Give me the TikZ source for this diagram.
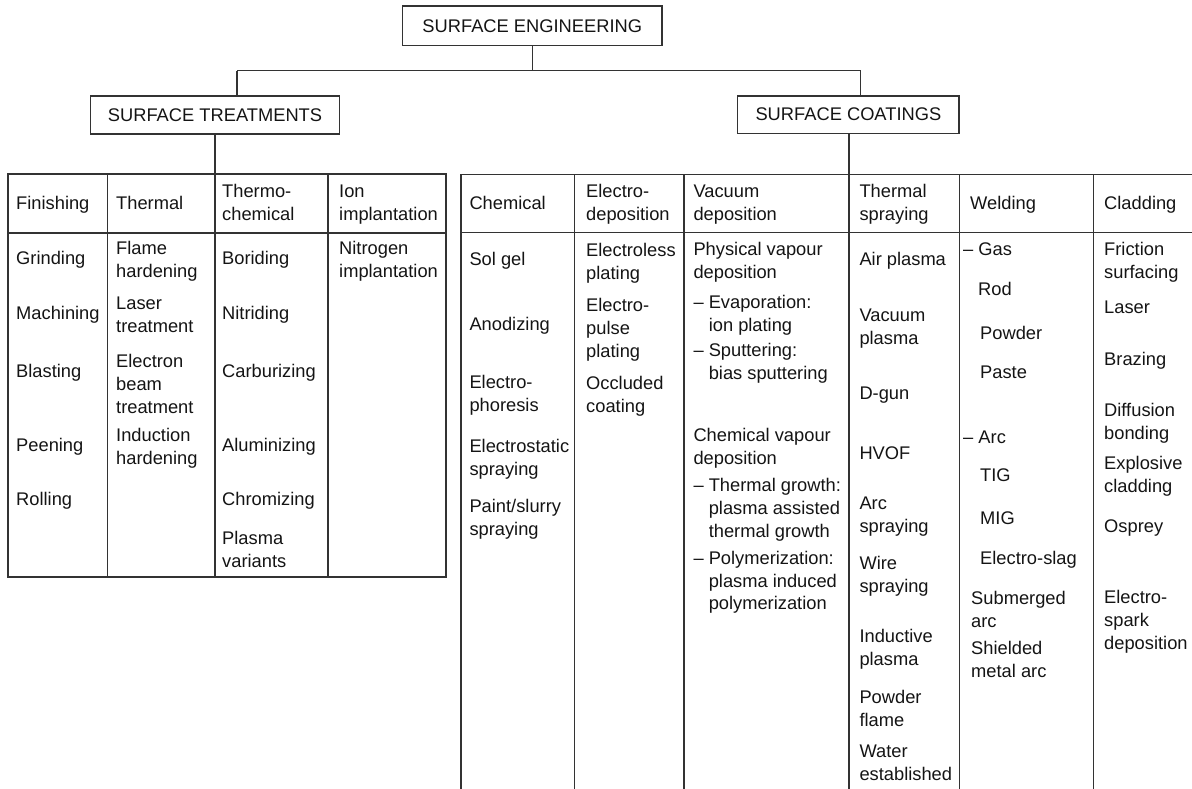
\documentclass[tikz,border=0pt]{standalone}
\usepackage{fontspec}
\setmainfont{Liberation Sans}
\newcommand{\fs}{\fontsize{18.3}{22.7}\selectfont}
\newcommand{\ind}{\phantom{–\ }}
\begin{document}
\begin{tikzpicture}[x=1pt,y=-1pt,
  ln/.style={line width=1.3pt, draw=black!80},
  box/.style={draw=black!80, line width=1.3pt, inner sep=0, font=\fs, text=black!92},
  cell/.style={anchor=north west, inner sep=0, align=left, font=\fs, text=black!92, yshift=9.4pt}]
\useasboundingbox (0,0) rectangle (1192,789);

% top boxes
\node[box, minimum width=259.3pt, minimum height=39.7pt] (se) at (532.3,25.9) {SURFACE ENGINEERING};
\node[box, minimum width=248.6pt, minimum height=38pt] (st) at (215,115) {SURFACE TREATMENTS};
\node[box, minimum width=221.3pt, minimum height=37.3pt] (sc) at (848.4,114.7) {SURFACE COATINGS};

\coordinate (hl) at (237,70.7);
\coordinate (hr) at (860.7,70.7);
\coordinate (lt) at (215,174);
\coordinate (rt) at (849,174.5);
\draw[ln] (se.south) -- (se.south |- hl);
\draw[ln] (hl) -- (hr);
\draw[ln] (hl) -- (hl |- st.north);
\draw[ln] (hr) -- (hr |- sc.north);
\draw[ln] (st.south) -- (lt);
\draw[ln] (rt |- sc.south) -- (rt);

% left table
\draw[ln] (8,174) rectangle (446,577);
\draw[ln] (8,233) -- (446,233);
\foreach \x in {107.7,215,328} \draw[ln] (\x,174) -- (\x,577);

% right table
\draw[ln] (461,789) -- (461,174.5) -- (1192,174.5);
\draw[ln] (461,232.7) -- (1192,232.7);
\foreach \x in {574.3,684,849,959.3,1093.7} \draw[ln] (\x,174.5) -- (\x,789);

% left table text
\node[cell] (h1) at (16,203) {\strut Finishing};
\node[cell] (h2) at (116,203) {\strut Thermal};
\node[cell] (h3) at (222,190.7) {\strut Thermo-\\chemical};
\node[cell] (h4) at (339,190.7) {\strut Ion\\implantation};

\node[cell] (a1) at (16,258.3) {\strut Grinding};
\node[cell] (a2) at (16,312.7) {\strut Machining};
\node[cell] (a3) at (16,371) {\strut Blasting};
\node[cell] (a4) at (16,445.3) {\strut Peening};
\node[cell] (a5) at (16,499) {\strut Rolling};

\node[cell] (b1) at (116,248.3) {\strut Flame\\hardening};
\node[cell] (b2) at (116,302.7) {\strut Laser\\treatment};
\node[cell] (b3) at (116,361) {\strut Electron\\beam\\treatment};
\node[cell] (b4) at (116,435) {\strut Induction\\hardening};

\node[cell] (c1) at (222,258.3) {\strut Boriding};
\node[cell] (c2) at (222,312.7) {\strut Nitriding};
\node[cell] (c3) at (222,371) {\strut Carburizing};
\node[cell] (c4) at (222,445.3) {\strut Aluminizing};
\node[cell] (c5) at (222,499) {\strut Chromizing};
\node[cell] (c6) at (222,538.3) {\strut Plasma\\variants};

\node[cell] (d1) at (339,248.3) {\strut Nitrogen\\implantation};

% right table text
\node[cell] (k1) at (469.3,203.3) {\strut Chemical};
\node[cell] (k2) at (586,190.7) {\strut Electro-\\deposition};
\node[cell] (k3) at (693.3,190.7) {\strut Vacuum\\deposition};
\node[cell] (k4) at (859.3,190.7) {\strut Thermal\\spraying};
\node[cell] (k5) at (970,203.3) {\strut Welding};
\node[cell] (k6) at (1104,203.3) {\strut Cladding};

\node[cell] (e1) at (469.3,259.3) {\strut Sol gel};
\node[cell] (e2) at (469.3,324) {\strut Anodizing};
\node[cell] (e3) at (469.3,381.7) {\strut Electro-\\phoresis};
\node[cell] (e4) at (469.3,446) {\strut Electrostatic\\spraying};
\node[cell] (e5) at (469.3,506) {\strut Paint/slurry\\spraying};

\node[cell] (g1) at (586,250) {\strut Electroless\\plating};
\node[cell] (g2) at (586,305) {\strut Electro-\\pulse\\plating};
\node[cell] (g3) at (586,383.3) {\strut Occluded\\coating};

\node[cell] (v1) at (693.3,249) {\strut Physical vapour\\deposition};
\node[cell] (v2) at (693.3,301.7) {\strut – Evaporation:\\\ind ion plating};
\node[cell] (v3) at (693.3,350) {\strut – Sputtering:\\\ind bias sputtering};
\node[cell] (v4) at (693.3,435) {\strut Chemical vapour\\deposition};
\node[cell] (v5) at (693.3,485) {\strut – Thermal growth:\\\ind plasma assisted\\\ind thermal growth};
\node[cell] (v6) at (693.3,557.7) {\strut – Polymerization:\\\ind plasma induced\\\ind polymerization};

\node[cell] (s1) at (859.3,259.3) {\strut Air plasma};
\node[cell] (s2) at (859.3,315) {\strut Vacuum\\plasma};
\node[cell] (s3) at (859.3,393.3) {\strut D-gun};
\node[cell] (s4) at (859.3,452.7) {\strut HVOF};
\node[cell] (s5) at (859.3,503.3) {\strut Arc\\spraying};
\node[cell] (s6) at (859.3,563.3) {\strut Wire\\spraying};
\node[cell] (s7) at (859.3,636) {\strut Inductive\\plasma};
\node[cell] (s8) at (859.3,697) {\strut Powder\\flame};
\node[cell] (s9) at (859.3,751) {\strut Water\\established};

\node[cell] (w1) at (963,249) {\strut – Gas};
\node[cell] (w2) at (978,289) {\strut Rod};
\node[cell] (w3) at (980,333.3) {\strut Powder};
\node[cell] (w4) at (980,371.7) {\strut Paste};
\node[cell] (w5) at (963,437.3) {\strut – Arc};
\node[cell] (w6) at (980,475) {\strut TIG};
\node[cell] (w7) at (980,518.3) {\strut MIG};
\node[cell] (w8) at (980,557.7) {\strut Electro-slag};
\node[cell] (w9) at (971,598) {\strut Submerged\\arc};
\node[cell] (w10) at (971,648) {\strut Shielded\\metal arc};

\node[cell] (l1) at (1104,249) {\strut Friction\\surfacing};
\node[cell] (l2) at (1104,306.7) {\strut Laser};
\node[cell] (l3) at (1104,359.3) {\strut Brazing};
\node[cell] (l4) at (1104,410) {\strut Diffusion\\bonding};
\node[cell] (l5) at (1104,463.3) {\strut Explosive\\cladding};
\node[cell] (l6) at (1104,526) {\strut Osprey};
\node[cell] (l7) at (1104,597) {\strut Electro-\\spark\\deposition};
\end{tikzpicture}
\end{document}
